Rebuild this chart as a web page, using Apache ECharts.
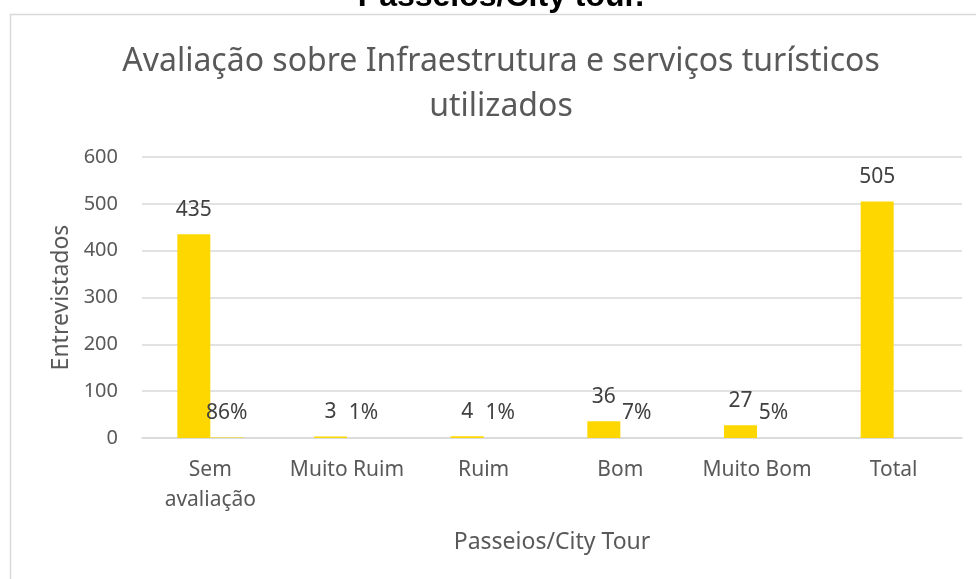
<!DOCTYPE html>
<html>
<head>
<meta charset="utf-8">
<script src="https://cdn.jsdelivr.net/npm/echarts@6/dist/echarts.min.js"></script>
<style>
  html, body { margin: 0; padding: 0; background: #fff; }
  #chart { width: 976px; height: 579px; }
</style>
</head>
<body>
<div id="chart"></div>
<script>
// Passeios/City Tour ratings
const categories = ['Sem\navaliação', 'Muito Ruim', 'Ruim', 'Bom', 'Muito Bom', 'Total'];
const interviewees = [435, 3, 4, 36, 27, 505];
const shares = [0.86, 0.01, 0.01, 0.07, 0.05, null];
const yTicks = { min: 0, max: 600, interval: 100 };

const FONT = 'Noto Sans';
const AXIS_TEXT = '#595959';
const LABEL_TEXT = '#404040';
const BAR = '#FFD700';
// horizontal centre of the chart frame (which runs past the right edge)
const FRAME_CX = 501;

const chart = echarts.init(document.getElementById('chart'));
chart.setOption({
  animation: false,
  textStyle: { fontFamily: FONT },
  graphic: [
    {
      type: 'rect',
      left: 8, top: 12,
      shape: { width: 1000, height: 600 },
      style: { fill: 'none', stroke: '#d9d9d9', lineWidth: 1.5 },
      silent: true
    },
    {
      type: 'text',
      x: FRAME_CX, y: -19,
      style: {
        text: 'Passeios/City tour.',
        font: 'bold 32px "Liberation Sans", Arial, sans-serif',
        fill: '#000',
        align: 'center',
        verticalAlign: 'top'
      }
    },
    {
      type: 'text',
      x: FRAME_CX, y: 39,
      style: {
        text: 'Avaliação sobre Infraestrutura e serviços turísticos\nutilizados',
        font: '32px "Noto Sans"',
        fill: AXIS_TEXT,
        lineHeight: 45,
        align: 'center',
        verticalAlign: 'top'
      }
    }
  ],
  grid: { left: 142, right: 14, top: 157, bottom: 141 },
  xAxis: {
    type: 'category',
    data: categories,
    name: 'Passeios/City Tour',
    nameLocation: 'middle',
    nameGap: 93,
    nameTextStyle: { fontFamily: FONT, fontSize: 23, color: AXIS_TEXT },
    axisLine: { lineStyle: { color: '#d9d9d9', width: 1.5 } },
    axisTick: { show: false },
    axisLabel: {
      fontFamily: FONT, fontSize: 21, color: AXIS_TEXT,
      lineHeight: 30, margin: 17, interval: 0
    }
  },
  yAxis: {
    type: 'value',
    min: yTicks.min, max: yTicks.max, interval: yTicks.interval,
    name: 'Entrevistados',
    nameLocation: 'middle',
    nameRotate: 90,
    nameGap: 69,
    nameTextStyle: { fontFamily: FONT, fontSize: 23, color: AXIS_TEXT },
    axisLine: { show: false },
    axisTick: { show: false },
    axisLabel: { fontFamily: FONT, fontSize: 20, color: AXIS_TEXT, margin: 24 },
    splitLine: { lineStyle: { color: '#d9d9d9', width: 1.5 } }
  },
  series: [
    {
      type: 'bar',
      data: interviewees,
      barWidth: 33,
      barGap: '0%',
      itemStyle: { color: BAR },
      label: {
        show: true, position: 'top', distance: 14,
        fontFamily: FONT, fontSize: 21, color: LABEL_TEXT
      }
    },
    {
      type: 'bar',
      data: shares,
      barWidth: 33,
      itemStyle: { color: BAR },
      label: {
        show: true, position: 'top', distance: 14,
        fontFamily: FONT, fontSize: 21, color: LABEL_TEXT,
        formatter: p => p.value == null ? '' : Math.round(p.value * 100) + '%'
      }
    }
  ]
});
</script>
</body>
</html>
